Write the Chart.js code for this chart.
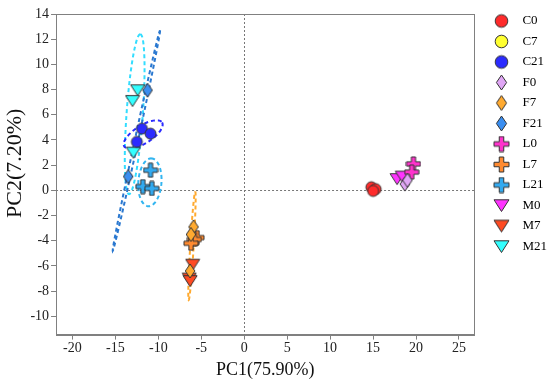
<!DOCTYPE html>
<html>
<head>
<meta charset="utf-8">
<script src="https://cdn.jsdelivr.net/npm/chart.js@4/dist/chart.umd.min.js"></script>
<style>
  html, body { margin: 0; padding: 0; background: #fff; }
</style>
</head>
<body>
<canvas id="pca" width="550" height="387"></canvas>
<script>
// groups
const groups = ["C0", "C7", "C21", "F0", "F7", "F21", "L0", "L7", "L21", "M0", "M7", "M21"];
const shapes = ["circle", "circle", "circle", "diamond", "diamond", "diamond", "plus", "plus", "plus", "tri", "tri", "tri"];
const fills = ["#ff2b2b", "#ffff30", "#2b2bff", "#e0a6f5", "#ffaa30", "#3a8ef0", "#ff33cc", "#ff8a30", "#33aaf0", "#ff33ff", "#ff4a22", "#33ffff"];

// PC scores (x = PC1, y = PC2) per group
const pc1 = [
  [14.8, 15.3, 15.0],
  [],
  [-11.9, -10.9, -12.5],
  [18.7, 19.0],
  [-5.9, -6.2, -6.3],
  [-11.25, -13.5],
  [19.7, 19.5],
  [-5.5, -5.8, -6.2],
  [-10.9, -11.8, -10.75],
  [17.8, 18.4],
  [-6.0, -6.4, -6.3],
  [-12.4, -13.0, -12.9]
];
const pc2 = [
  [0.25, 0.1, -0.05],
  [],
  [4.9, 4.5, 3.85],
  [0.5, 0.8],
  [-2.9, -3.5, -6.4],
  [7.95, 1.1],
  [2.1, 1.45],
  [-3.75, -3.9, -4.2],
  [1.6, 0.3, 0.15],
  [0.9, 1.1],
  [-5.9, -7.0, -7.2],
  [7.95, 7.1, 3.0]
];

// confidence ellipses: centre, half-axis vectors u and v (data units)
const ellCx = [-12.75, -12.55, -11.76, -10.98, -6.08];
const ellCy = [6.05, 3.95, 4.44, 0.64, -4.4];
const ellUx = [0.65, 2.75, 2.2, 0.15, 0.38];
const ellUy = [6.35, 8.75, 0.95, 1.9, 4.3];
const ellVx = [0.95, 0.2, 0.55, 1.35, 0.2];
const ellVy = [0, 0, -0.6, 0, 0];
const ellColor = ["#33ddff", "#2a78d0", "#2b2bff", "#33b5f0", "#ffaa30"];

const xTicks = [-20, -15, -10, -5, 0, 5, 10, 15, 20, 25];
const yTicks = [-10, -8, -6, -4, -2, 0, 2, 4, 6, 8, 10, 12, 14];

function makeMarker(shape, fill, size) {
  const c = document.createElement("canvas");
  c.width = size + 2;
  c.height = size + 2;
  const g = c.getContext("2d");
  const s = size, o = 1;
  g.beginPath();
  if (shape === "circle") {
    g.arc(o + s / 2, o + s / 2, s * 0.42, 0, Math.PI * 2);
  } else if (shape === "diamond") {
    const w = s * 0.34;
    g.moveTo(o + s / 2, o);
    g.lineTo(o + s / 2 + w, o + s / 2);
    g.lineTo(o + s / 2, o + s);
    g.lineTo(o + s / 2 - w, o + s / 2);
    g.closePath();
  } else if (shape === "plus") {
    const a = s * 0.3, m = s / 2;
    g.moveTo(o + m - a / 2, o);
    g.lineTo(o + m + a / 2, o);
    g.lineTo(o + m + a / 2, o + m - a / 2);
    g.lineTo(o + s, o + m - a / 2);
    g.lineTo(o + s, o + m + a / 2);
    g.lineTo(o + m + a / 2, o + m + a / 2);
    g.lineTo(o + m + a / 2, o + s);
    g.lineTo(o + m - a / 2, o + s);
    g.lineTo(o + m - a / 2, o + m + a / 2);
    g.lineTo(o, o + m + a / 2);
    g.lineTo(o, o + m - a / 2);
    g.lineTo(o + m - a / 2, o + m - a / 2);
    g.closePath();
  } else {
    g.moveTo(o, o + s * 0.12);
    g.lineTo(o + s, o + s * 0.12);
    g.lineTo(o + s / 2, o + s * 0.9);
    g.closePath();
  }
  g.fillStyle = fill;
  g.fill();
  g.lineWidth = 1;
  g.strokeStyle = "#333";
  g.stroke();
  return c;
}

const plotMarkers = groups.map((_, i) => makeMarker(shapes[i], fills[i], shapes[i] === "circle" ? 13 : 14));
const legendMarkers = groups.map((_, i) => makeMarker(shapes[i], fills[i], 15));

const datasets = groups.map((name, i) => ({
  label: name,
  data: pc1[i].map((x, j) => ({ x: x, y: pc2[i][j] })),
  pointStyle: plotMarkers[i],
  backgroundColor: fills[i],
  borderColor: "#333",
  pointRadius: 7
}));

const boxAndRefs = {
  id: "boxAndRefs",
  beforeDatasetsDraw(chart) {
    const { ctx, chartArea: a, scales } = chart;
    const xs = scales.x, ys = scales.y;
    ctx.save();
    ctx.beginPath();
    ctx.rect(a.left, a.top, a.right - a.left, a.bottom - a.top);
    ctx.clip();
    // zero lines
    ctx.strokeStyle = "#777";
    ctx.lineWidth = 1;
    ctx.setLineDash([2, 2]);
    const x0 = Math.round(xs.getPixelForValue(0)) + 0.5;
    const y0 = Math.round(ys.getPixelForValue(0)) + 0.5;
    ctx.beginPath();
    ctx.moveTo(x0, a.top);
    ctx.lineTo(x0, a.bottom);
    ctx.moveTo(a.left, y0);
    ctx.lineTo(a.right, y0);
    ctx.stroke();
    // ellipses
    ctx.lineWidth = 2;
    ctx.setLineDash([4, 3]);
    ellCx.forEach((cx, k) => {
      ctx.strokeStyle = ellColor[k];
      ctx.beginPath();
      for (let t = 0; t <= 72; t++) {
        const ang = (t / 72) * Math.PI * 2;
        const dx = cx + Math.cos(ang) * ellUx[k] + Math.sin(ang) * ellVx[k];
        const dy = ellCy[k] + Math.cos(ang) * ellUy[k] + Math.sin(ang) * ellVy[k];
        const px = xs.getPixelForValue(dx), py = ys.getPixelForValue(dy);
        if (t === 0) ctx.moveTo(px, py); else ctx.lineTo(px, py);
      }
      ctx.stroke();
    });
    ctx.restore();
  },
  afterDraw(chart) {
    const { ctx, chartArea: a } = chart;
    ctx.save();
    ctx.strokeStyle = "#808080";
    ctx.lineWidth = 1;
    ctx.strokeRect(Math.round(a.left) + 0.5, Math.round(a.top) + 0.5,
      Math.round(a.right - a.left), Math.round(a.bottom - a.top));
    ctx.restore();
  }
};

const serif = "'Liberation Serif', 'Times New Roman', serif";

new Chart(document.getElementById("pca").getContext("2d"), {
  type: "scatter",
  data: { datasets: datasets },
  plugins: [boxAndRefs],
  options: {
    responsive: false,
    animation: false,
    layout: { padding: { top: 7, right: -7, bottom: 6, left: 1 } },
    plugins: {
      tooltip: { enabled: false },
      legend: {
        position: "right",
        align: "start",
        labels: {
          usePointStyle: true,
          pointStyleWidth: 29,
          boxHeight: 10,
          padding: 7.5,
          color: "#222",
          font: { family: serif, size: 13 },
          generateLabels: (chart) => groups.map((name, i) => ({
            text: name,
            pointStyle: legendMarkers[i],
            fillStyle: fills[i],
            strokeStyle: "#333",
            lineWidth: 1,
            hidden: false,
            datasetIndex: i
          }))
        }
      }
    },
    scales: {
      x: {
        type: "linear",
        min: -21.9,
        max: 26.8,
        afterBuildTicks: (s) => { s.ticks = xTicks.map(v => ({ value: v })); },
        grid: { display: true, drawOnChartArea: false, drawTicks: true, tickLength: 5, color: "#808080" },
        border: { display: true, color: "#808080" },
        ticks: { color: "#222", font: { family: serif, size: 14 }, padding: 0, maxRotation: 0 },
        title: { display: true, text: "PC1(75.90%)", color: "#111", font: { family: serif, size: 18 }, padding: { top: 3, bottom: 0 } }
      },
      y: {
        type: "linear",
        min: -11.45,
        max: 14,
        afterBuildTicks: (s) => { s.ticks = yTicks.map(v => ({ value: v })); },
        afterFit: (s) => { s.paddingTop = 14; },
        grid: { display: true, drawOnChartArea: false, drawTicks: true, tickLength: 5, color: "#808080" },
        border: { display: true, color: "#808080" },
        ticks: { color: "#222", font: { family: serif, size: 14 }, padding: 2 },
        title: { display: true, text: "\u00a0\u00a0\u00a0\u00a0PC2(7.20%)", color: "#111", font: { family: serif, size: 22 }, padding: { top: 1, bottom: 0 } }
      },
      // empty right-hand spacer between plot box and legend
      gap: {
        type: "linear",
        position: "right",
        display: true,
        afterFit: (s) => { s.width = 5; },
        grid: { display: false },
        border: { display: false },
        ticks: { display: false }
      }
    }
  }
});
</script>
</body>
</html>
